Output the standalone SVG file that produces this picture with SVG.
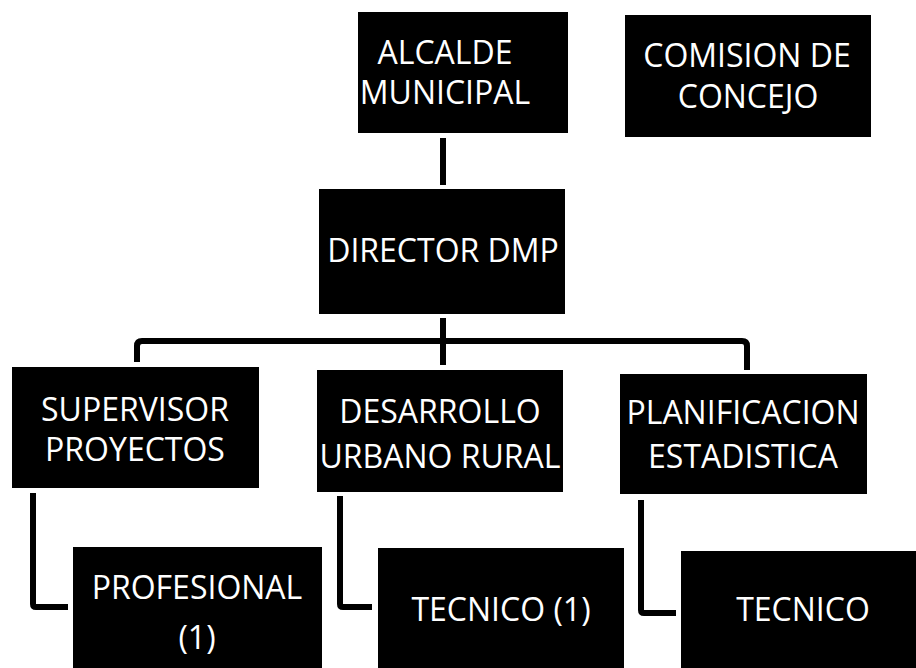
<svg xmlns="http://www.w3.org/2000/svg" width="916" height="668" viewBox="0 0 916 668">
<style>
.box{fill:#000}
.t{font-family:"Open Sans","Noto Sans","Liberation Sans",sans-serif;font-size:32px;fill:#fff;text-anchor:middle}
.c{fill:none;stroke:#000;stroke-width:6;stroke-linejoin:round;stroke-linecap:butt}
</style>
<rect width="916" height="668" fill="#fff"/>
<g id="connectors">
<path class="c" d="M443 138V185"/>
<path class="c" d="M443 318V365"/>
<path class="c" d="M137 362V346Q137 341 142 341H742Q747 341 747 346V370"/>
<path class="c" d="M33 493V604Q33 607 36 607H68"/>
<path class="c" d="M340 496V604Q340 607 343 607H372"/>
<path class="c" d="M641 500V610Q641 613 644 613H676"/>
</g>
<g id="alcalde"><rect class="box" x="358" y="12" width="210" height="121"/><text class="t" x="445" y="64">ALCALDE</text><text class="t" x="445" y="104">MUNICIPAL</text></g>
<g id="comision"><rect class="box" x="625" y="15" width="246" height="122"/><text class="t" x="747" y="67">COMISION DE</text><text class="t" x="748" y="108">CONCEJO</text></g>
<g id="director"><rect class="box" x="319" y="189" width="246" height="125"/><text class="t" x="443" y="262">DIRECTOR DMP</text></g>
<g id="supervisor"><rect class="box" x="12" y="367" width="247" height="121"/><text class="t" x="135" y="421">SUPERVISOR</text><text class="t" x="135" y="461">PROYECTOS</text></g>
<g id="desarrollo"><rect class="box" x="317" y="370" width="246" height="122"/><text class="t" x="440" y="423">DESARROLLO</text><text class="t" x="440" y="468">URBANO RURAL</text></g>
<g id="planificacion"><rect class="box" x="620" y="374" width="247" height="120"/><text class="t" x="743" y="424">PLANIFICACION</text><text class="t" x="743" y="468">ESTADISTICA</text></g>
<g id="profesional"><rect class="box" x="73" y="547" width="249" height="121"/><text class="t" x="197" y="599">PROFESIONAL</text><text class="t" x="197" y="649">(1)</text></g>
<g id="tecnico1"><rect class="box" x="378" y="548" width="246" height="120"/><text class="t" x="501" y="621">TECNICO (1)</text></g>
<g id="tecnico"><rect class="box" x="681" y="551" width="235" height="117"/><text class="t" x="803" y="621">TECNICO</text></g>
</svg>
